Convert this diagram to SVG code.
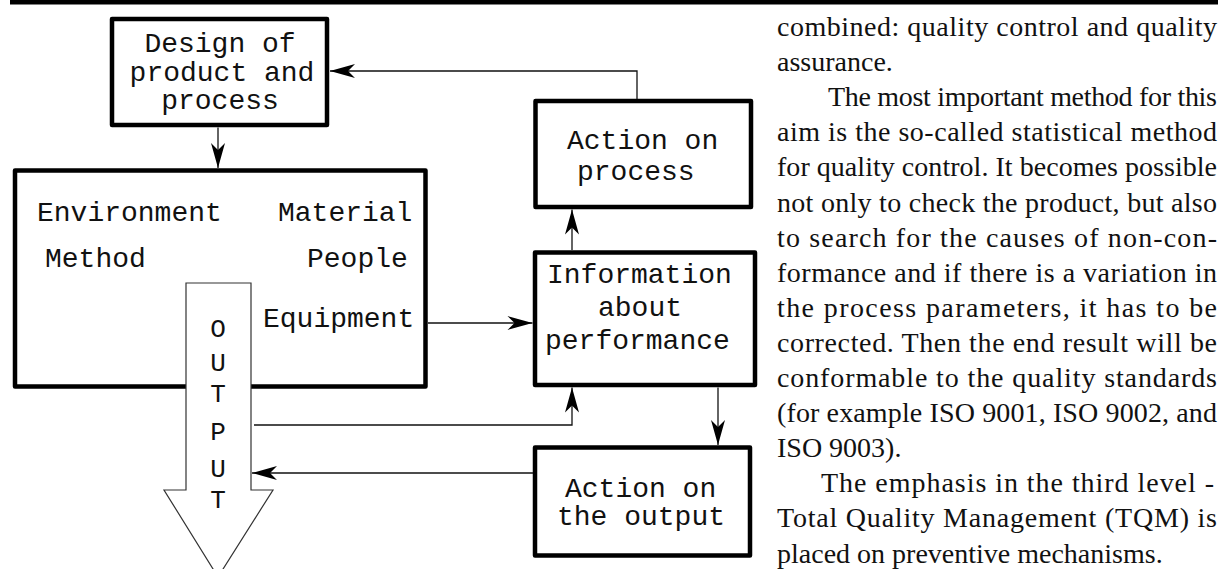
<svg xmlns="http://www.w3.org/2000/svg" width="1221" height="569" viewBox="0 0 1221 569">
<style>
.box{fill:#fff;stroke:#000;stroke-width:4.5;stroke-linejoin:round}
.mono{font-family:"Liberation Mono","Courier New",monospace;font-size:28px;fill:#111}
.out{font-family:"Liberation Mono","Courier New",monospace;font-size:26px;fill:#111;text-anchor:middle}
.mid{text-anchor:middle}
.con{fill:none;stroke:#111;stroke-width:1.3}
.para{font-family:"Liberation Serif","Times New Roman",serif;font-size:28px;fill:#111}
</style>
<defs>
<marker id="ah" viewBox="-26 -8 27 16" markerWidth="27" markerHeight="16" refX="0" refY="0" markerUnits="userSpaceOnUse" orient="auto">
<path d="M0,0 L-25,-7 L-18,0 L-25,7 Z" fill="#000"/>
</marker>
</defs>
<rect x="10" y="0" width="1208" height="4.5" fill="#000"/>
<g id="design">
<rect class="box" x="112" y="19" width="215" height="106"/>
<text class="mono mid" x="220" y="52">Design of</text>
<text class="mono mid" x="222" y="81">product and</text>
<text class="mono mid" x="220" y="109">process</text>
</g>
<g id="factors">
<rect class="box" x="15" y="170.5" width="410.5" height="216"/>
<text class="mono" x="37" y="221">Environment</text>
<text class="mono" x="278" y="221">Material</text>
<text class="mono" x="45" y="267">Method</text>
<text class="mono" x="307" y="267">People</text>
<text class="mono" x="263" y="327">Equipment</text>
</g>
<g id="output">
<polygon points="186,283 251,283 251,490 273,490 218,577 164,490 186,490" fill="#fff" stroke="#333" stroke-width="1.2"/>
<text class="out" x="218" y="337">O</text>
<text class="out" x="218" y="371">U</text>
<text class="out" x="218" y="402">T</text>
<text class="out" x="218" y="440">P</text>
<text class="out" x="218" y="477">U</text>
<text class="out" x="218" y="508">T</text>
</g>
<g id="action-process">
<rect class="box" x="535.5" y="101" width="215.5" height="106"/>
<text class="mono" x="567" y="149">Action on</text>
<text class="mono" x="577" y="180">process</text>
</g>
<g id="information">
<rect class="box" x="535" y="252.5" width="220" height="132.5"/>
<text class="mono" x="547" y="283">Information</text>
<text class="mono" x="598" y="316">about</text>
<text class="mono" x="545" y="349">performance</text>
</g>
<g id="action-output">
<rect class="box" x="535" y="447.5" width="215" height="108"/>
<text class="mono" x="565" y="497">Action on</text>
<text class="mono" x="557" y="525">the output</text>
</g>
<g id="connectors">
<line class="con" x1="218" y1="127.5" x2="218" y2="168" marker-end="url(#ah)"/>
<polyline class="con" points="637,99 637,71 330,71" marker-end="url(#ah)"/>
<line class="con" x1="572" y1="250" x2="572" y2="209.5" marker-end="url(#ah)"/>
<line class="con" x1="428" y1="323" x2="532.5" y2="323" marker-end="url(#ah)"/>
<polyline class="con" points="254,425 572,425 572,387.5" marker-end="url(#ah)"/>
<line class="con" x1="718" y1="387.5" x2="718" y2="445" marker-end="url(#ah)"/>
<line class="con" x1="533" y1="473" x2="252" y2="473" marker-end="url(#ah)"/>
</g>
<g id="paragraph" class="para">
<text x="777" y="36" textLength="440" lengthAdjust="spacing">combined: quality control and quality</text>
<text x="777" y="71.1">assurance.</text>
<text x="828" y="106.2" textLength="389" lengthAdjust="spacing">The most important method for this</text>
<text x="777" y="141.3" textLength="440" lengthAdjust="spacing">aim is the so-called statistical method</text>
<text x="777" y="176.4" textLength="440" lengthAdjust="spacing">for quality control. It becomes possible</text>
<text x="777" y="211.5" textLength="440" lengthAdjust="spacing">not only to check the product, but also</text>
<text x="777" y="246.6" textLength="440" lengthAdjust="spacing">to search for the causes of non-con-</text>
<text x="777" y="281.7" textLength="440" lengthAdjust="spacing">formance and if there is a variation in</text>
<text x="777" y="316.8" textLength="440" lengthAdjust="spacing">the process parameters, it has to be</text>
<text x="777" y="351.9" textLength="440" lengthAdjust="spacing">corrected. Then the end result will be</text>
<text x="777" y="387" textLength="440" lengthAdjust="spacing">conformable to the quality standards</text>
<text x="777" y="422.1" textLength="440" lengthAdjust="spacing">(for example ISO 9001, ISO 9002, and</text>
<text x="777" y="457.2">ISO 9003).</text>
<text x="821" y="492.3" textLength="393" lengthAdjust="spacing">The emphasis in the third level -</text>
<text x="777" y="527.4" textLength="440" lengthAdjust="spacing">Total Quality Management (TQM) is</text>
<text x="777" y="562.5">placed on preventive mechanisms.</text>
</g>
</svg>
